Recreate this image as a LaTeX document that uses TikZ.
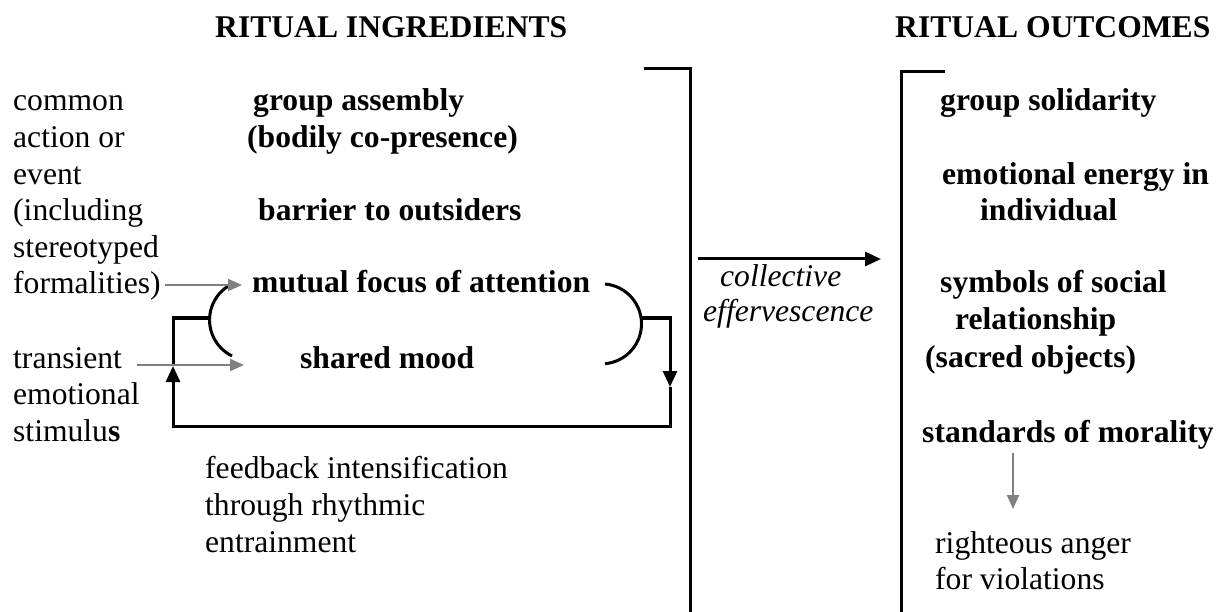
\documentclass[tikz,border=0pt]{standalone}
\usepackage{fontspec}
\setmainfont{Liberation Serif}
\usetikzlibrary{arrows.meta}
\definecolor{arrowgray}{RGB}{128,128,128}
\tikzset{
  txt/.style={inner sep=0pt, anchor=base west, font=\fontsize{31.6pt}{36.6pt}\selectfont},
  btxt/.style={txt, font=\fontsize{31.6pt}{36.6pt}\selectfont\bfseries},
  itxt/.style={txt, font=\fontsize{31.6pt}{36.6pt}\selectfont\itshape},
  heavy/.style={line width=3pt, line join=miter},
  blk/.style={heavy, -{Triangle[length=16pt, width=14pt]}},
  gry/.style={draw=arrowgray, line width=2pt, -{Triangle[length=14pt, width=12pt]}, arrowgray}
}
\begin{document}
\begin{tikzpicture}[x=1pt, y=-1pt]
\useasboundingbox[fill=white] (0,0) rectangle (1226,612);
% headings
\node[btxt] (h1) at (215,38) {RITUAL INGREDIENTS};
\node[btxt] (h2) at (895,38) {RITUAL OUTCOMES};
% left column
\node[txt] (l1) at (13,111) {common};
\node[txt] (l2) at (13,147.6) {action or};
\node[txt] (l3) at (13,184.2) {event};
\node[txt] (l4) at (13,220.8) {(including};
\node[txt] (l5) at (13,257.4) {stereotyped};
\node[txt] (l6) at (13,294) {formalities)};
\node[txt] (l7) at (13,368) {transient};
\node[txt] (l8) at (13,404.6) {emotional};
\node[txt] (l9) at (13,441.2) {stimulu\textbf{s}};
% ingredients
\node[btxt] (g1) at (253,111) {group assembly};
\node[btxt] (g2) at (247,148) {(bodily co-presence)};
\node[btxt] (bar) at (258,221) {barrier to outsiders};
\node[btxt] (mf) at (252,293) {mutual focus of attention};
\node[btxt] (sm) at (300,368) {shared mood};
\node[txt] (f1) at (205,478) {feedback intensification};
\node[txt] (f2) at (205,515) {through rhythmic};
\node[txt] (f3) at (205,552) {entrainment};
% collective
\node[itxt] (c1) at (720,287) {collective};
\node[itxt] (c2) at (703,322) {effervescence};
% outcomes
\node[btxt] (o1) at (940,111) {group solidarity};
\node[btxt] (o2) at (942,185) {emotional energy in};
\node[btxt] (o3) at (980,221) {individual};
\node[btxt] (o4) at (940,293) {symbols of social};
\node[btxt] (o5) at (955,330) {relationship};
\node[btxt] (o6) at (925,367) {(sacred objects)};
\node[btxt] (o7) at (922,442) {standards of morality};
\node[txt] (r1) at (935,553) {righteous anger};
\node[txt] (r2) at (935,589) {for violations};
% brackets
\coordinate (lbA) at (644,69);
\coordinate (lbB) at (690,69);
\coordinate (lbC) at (690,612);
\coordinate (rbA) at (945,72);
\coordinate (rbB) at (901,72);
\coordinate (rbC) at (901,612);
\draw[heavy] (lbA) -- (lbB) -- (lbC);
\draw[heavy] (rbA) -- (rbB) -- (rbC);
% collective arrow
\coordinate (ca) at (698,259);
\coordinate (cb) at (881,259);
\draw[blk] (ca) -- (cb);
% feedback loop
\coordinate (la) at (232,284);
\coordinate (ra) at (605,284);
\draw[heavy] (la) arc[start angle=244, end angle=116, radius=40];
\draw[heavy] (ra) arc[start angle=-85, end angle=85, radius=40];
\coordinate (p1) at (642,318);
\coordinate (p2) at (670,318);
\coordinate (p3) at (670,387);
\coordinate (p4) at (670,426);
\coordinate (p5) at (173,426);
\coordinate (p6) at (173,366);
\coordinate (p7) at (173,318);
\coordinate (p8) at (211,318);
\draw[blk] (p1) -- (p2) -- (p3);
\draw[blk] (p3) -- (p4) -- (p5) -- (p6);
\draw[heavy] (p6) -- (p7) -- (p8);
% gray arrows
\coordinate (ga1) at (165,285);
\coordinate (gb1) at (242,285);
\coordinate (ga2) at (137,365);
\coordinate (gb2) at (244,365);
\draw[gry] (ga1) -- (gb1);
\draw[gry] (ga2) -- (gb2);
\coordinate (ma) at (1013,453);
\coordinate (mb) at (1013,509);
\draw[gry] (ma) -- (mb);
\end{tikzpicture}
\end{document}
